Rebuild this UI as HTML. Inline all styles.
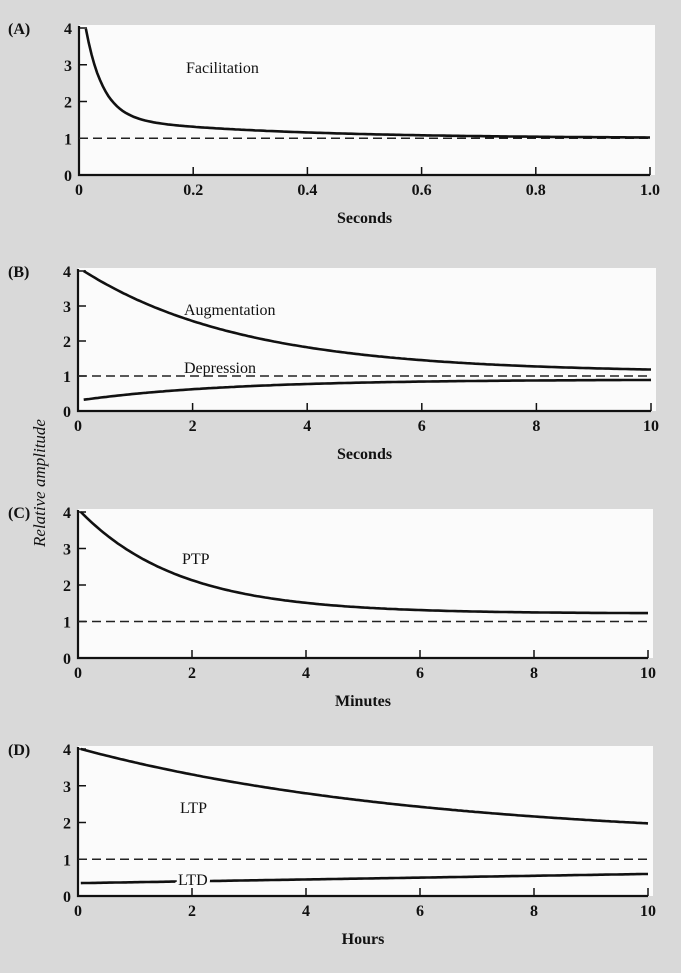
<!DOCTYPE html>
<html><head><meta charset="utf-8"><style>
html,body{margin:0;padding:0;background:#d9d9d9;}
svg{display:block;font-family:"Liberation Serif",serif;}
</style></head><body>
<svg id="s" width="681" height="973" viewBox="0 0 681 973" xmlns="http://www.w3.org/2000/svg">
<rect width="681" height="973" fill="#d9d9d9"/>
<g id="g"></g>
<text x="45" y="483" transform="rotate(-90 45 483)" font-size="17" font-style="italic" text-anchor="middle" fill="#111">Relative amplitude</text>
</svg>
<script>
var g=document.getElementById('g');var h='';
function P(o){
 var sx=function(v){return o.x0+(o.x1-o.x0)*v/o.xm;}, sy=function(v){return o.y0-(o.y0-o.y4)*v/4;};
 h+='<rect x="'+o.x0+'" y="'+(o.y4-3)+'" width="'+(o.x1-o.x0+5)+'" height="'+(o.y0-o.y4+3)+'" fill="#fbfbfb"/>';
 h+='<text x="8" y="'+(o.y4+6)+'" font-size="16" font-weight="bold" fill="#111">'+o.L+'</text>';
 for(var i=0;i<=4;i++){var y=sy(i);h+='<line x1="'+o.x0+'" x2="'+(o.x0+8)+'" y1="'+y+'" y2="'+y+'" stroke="#111" stroke-width="1.5"/>';
  h+='<text x="'+(o.x0-7)+'" y="'+(y+6)+'" font-size="16" font-weight="bold" text-anchor="end" fill="#111">'+i+'</text>';}
 for(var i=0;i<o.xt.length;i++){var x=sx(o.xt[i][0]);h+='<line x1="'+x+'" x2="'+x+'" y1="'+o.y0+'" y2="'+(o.y0-8)+'" stroke="#111" stroke-width="1.5"/>';
  h+='<text x="'+x+'" y="'+(o.y0+20)+'" font-size="16" font-weight="bold" text-anchor="middle" fill="#111">'+o.xt[i][1]+'</text>';}
 h+='<path d="M'+o.x0+' '+(o.y4-2)+'V'+o.y0+'H'+o.x1+'" fill="none" stroke="#111" stroke-width="2.2"/>';
 h+='<line x1="'+o.x0+'" x2="'+o.x1+'" y1="'+sy(1)+'" y2="'+sy(1)+'" stroke="#222" stroke-width="1.5" stroke-dasharray="9,5"/>';
 o.c.forEach(function(f){var d='';for(var k=0;k<=200;k++){var v=o.xs+(o.xm-o.xs)*k/200;d+=(k?'L':'M')+sx(v).toFixed(1)+' '+sy(f(v)).toFixed(1);}
  h+='<path d="'+d+'" fill="none" stroke="#111" stroke-width="2.6"/>';});
 h+='<text x="'+((o.x0+o.x1)/2)+'" y="'+(o.y0+48)+'" font-size="16" font-weight="bold" text-anchor="middle" fill="#111">'+o.xl+'</text>';
 o.t.forEach(function(t){h+='<text x="'+t[1]+'" y="'+t[2]+'" font-size="16" fill="#111"'+(t[3]?' style="paint-order:stroke" stroke="#fbfbfb" stroke-width="6"':'')+'>'+t[0]+'</text>';});
}
P({L:'(A)',x0:79,x1:650,y0:175,y4:28,xm:1,xs:0.012,xt:[[0,'0'],[0.2,'0.2'],[0.4,'0.4'],[0.6,'0.6'],[0.8,'0.8'],[1,'1.0']],xl:'Seconds',
 c:[function(v){return Math.min(4,1+0.6*Math.exp(-v/0.3)+2.4*Math.exp(-(v-0.012)/0.03));}],t:[['Facilitation',186,73]]});
P({L:'(B)',x0:78,x1:651,y0:411,y4:271,xm:10,xs:0.1,xt:[[0,'0'],[2,'2'],[4,'4'],[6,'6'],[8,'8'],[10,'10']],xl:'Seconds',
 c:[function(v){return 1.1+2.9*Math.exp(-(v-0.1)/2.8);},function(v){return 0.9-0.6*Math.exp(-v/2.6);}],t:[['Augmentation',184,315],['Depression',184,373]]});
P({L:'(C)',x0:78,x1:648,y0:658,y4:512,xm:10,xs:0.05,xt:[[0,'0'],[2,'2'],[4,'4'],[6,'6'],[8,'8'],[10,'10']],xl:'Minutes',
 c:[function(v){return 1.22+2.78*Math.exp(-(v-0.05)/1.75);}],t:[['PTP',182,564]]});
P({L:'(D)',x0:78,x1:648,y0:896,y4:749,xm:10,xs:0.05,xt:[[0,'0'],[2,'2'],[4,'4'],[6,'6'],[8,'8'],[10,'10']],xl:'Hours',
 c:[function(v){return 1.5+2.5*Math.exp(-(v-0.05)/6);},function(v){return 0.35+0.025*v;}],t:[['LTP',180,813],['LTD',178,885,1]]});
g.innerHTML=h;
</script>
</body></html>
